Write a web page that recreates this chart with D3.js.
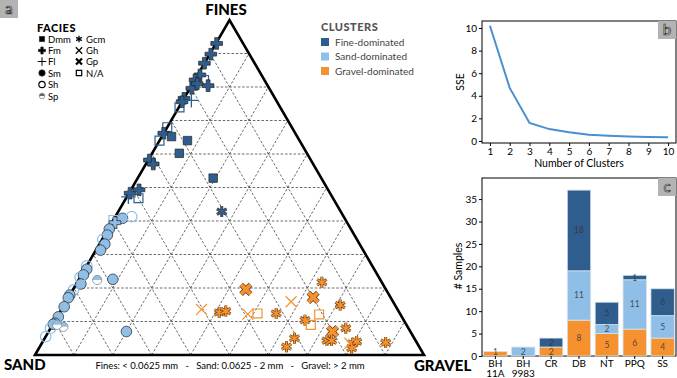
<!DOCTYPE html>
<html>
<head>
<meta charset="utf-8">
<script src="https://cdn.jsdelivr.net/npm/d3@7"></script>
<style>
  body { margin: 0; background: #fff; }
  svg { font-family: Lato, "Open Sans", sans-serif; }
</style>
</head>
<body>
<svg id="chart" width="677" height="378"></svg>
<script>
// Colori dei cluster
const clusterNames = ['Fine-dominated', 'Sand-dominated', 'Gravel-dominated'];
const clusterColors = ['#2f5e8e', '#8fbfe6', '#f5922f'];

// Facies (legenda)
const faciesCol1 = ['Dmm', 'Fm', 'Fl', 'Sm', 'Sh', 'Sp'];
const faciesCol2 = ['Gcm', 'Gh', 'Gp', 'N/A'];

// Punti ternari: [facies, fines %, gravel %] (sand = resto)
const finePoints = [
  ['Fm', 93, 0.2], ['Fm', 89.8, 0.3], ['Fm', 87.1, 0], ['Fm', 83.6, 0.6], ['Fm', 82.1, 0.1],
  ['N/A', 82.1, 2.4], ['Fm', 80.4, 4.3], ['Fm', 79.6, 0.5], ['Fm', 81, 1.2], ['Fm', 76.6, 0],
  ['Fm', 75.6, 0], ['Fl', 76, 2.2], ['N/A', 73.9, 0.2], ['N/A', 68, 0], ['Fm', 66.2, 0],
  ['Dmm', 65.2, 2.5], ['Dmm', 64, 7.2], ['N/A', 64, 0], ['Dmm', 60.2, 7], ['Fm', 58.2, 0.3],
  ['Fm', 57, 1.9], ['Dmm', 52.8, 19.4], ['Gcm', 42.8, 26.6], ['Fm', 48.3, 0.3], ['Fm', 49.3, 2.1],
  ['N/A', 46.8, 3.2], ['Fl', 47.2, 0.4]
];
const sandPoints = [
  ['Sm', 40.8, 2.1], ['Sh', 41.3, 4.2], ['N/A', 40.3, 0], ['Fm', 39.5, 0.8], ['Sm', 37.6, 0.3],
  ['Sm', 35.8, 0.7], ['Sh', 34.5, 0.2], ['Sm', 33.1, 1.4], ['Sm', 31.3, 1.2], ['Sh', 26.6, 0],
  ['Sm', 25.6, 0.5], ['Sm', 23.9, 0.5], ['Sm', 21.2, 1.2], ['Sh', 23.2, 0], ['Sp', 22.4, 4.8],
  ['Sm', 22.6, 8.7], ['Sh', 19.4, 0.2], ['Sm', 17.9, 0], ['Sm', 17.1, 0], ['Sm', 14.4, 0.3],
  ['Sm', 11.4, 0.3], ['Sm', 9.5, 0.4], ['Sm', 9.2, 0.1], ['Sh', 8, 0], ['Sh', 5.5, 0],
  ['Sp', 8.4, 3.1], ['Sp', 9, 1.2], ['Sm', 7, 20]
];
const gravelPoints = [
  ['Gcm', 21.7, 62.9], ['Gp', 19.6, 44.4], ['Gp', 17.2, 62.9], ['Gh', 15.9, 57.9], ['Gh', 13.6, 36],
  ['Gcm', 12.7, 41], ['Gcm', 13.1, 42.5], ['Gh', 12.2, 48.6], ['N/A', 12.4, 51], ['Gcm', 12.4, 55.8],
  ['Gcm', 14.9, 71], ['N/A', 12.1, 67], ['Gcm', 10.4, 64.2], ['N/A', 9, 66.4], ['Gcm', 8, 75.9],
  ['Gp', 7, 73], ['Gcm', 5, 64.2], ['Gcm', 4.3, 72.9], ['Gcm', 4.3, 74.1], ['Gcm', 2.5, 63.4],
  ['Gcm', 3.5, 79.9], ['Gcm', 4, 80.7], ['Gcm', 2, 80.4], ['Gh', 3.5, 79.2], ['Gcm', 3.7, 88.3]
];

// Curva SSE
const sseK = [1, 2, 3, 4, 5, 6, 7, 8, 9, 10];
const sseValues = [10.2, 4.7, 1.6, 1.05, 0.78, 0.55, 0.47, 0.4, 0.35, 0.33];
const sseTicks = [0, 2, 4, 6, 8, 10];

// Barre per sito
const sites = ['BH 11A', 'BH 9983', 'CR', 'DB', 'NT', 'PPQ', 'SS'];
const gravelCounts = [1, 0, 2, 8, 5, 6, 4];
const sandCounts = [0, 2, 0, 11, 2, 11, 5];
const fineCounts = [0, 0, 2, 18, 5, 1, 6];
const barTicks = [0, 5, 10, 15, 20, 25, 30, 35];

const svg = d3.select('#chart');

// ---------- Ternario ----------
const tri = { left: 35, right: 424, top: 20, bottom: 355 };
const tx = d3.scaleLinear().domain([0, 100]).range([tri.left, tri.right]);
const ty = d3.scaleLinear().domain([0, 100]).range([tri.bottom, tri.top]);
const proj = (f, g) => [tx(g + f / 2), ty(f)];

const gridG = svg.append('g');
const gridLines = [];
for (let i = 10; i < 100; i += 10) {
  gridLines.push([proj(i, 0), proj(i, 100 - i)]);
  gridLines.push([proj(0, i), proj(100 - i, i)]);
  gridLines.push([proj(0, 100 - i), proj(100 - i, 0)]);
}
gridG.selectAll('line').data(gridLines).enter().append('line')
  .attr('x1', (d) => d[0][0]).attr('y1', (d) => d[0][1])
  .attr('x2', (d) => d[1][0]).attr('y2', (d) => d[1][1])
  .attr('stroke', '#444').attr('stroke-width', 0.8).attr('stroke-dasharray', '2.5,1.8');

svg.append('path')
  .attr('d', d3.line()([proj(0, 0), proj(100, 0), proj(0, 100)]) + 'Z')
  .attr('fill', 'none').attr('stroke', '#000').attr('stroke-width', 2.6)
  .attr('stroke-linejoin', 'miter');

// disegna un marker di facies
function drawMarker(g, facies, color, s) {
  const k = s || 1;
  const legend = color === '#000';
  const sym = (type, size) => d3.symbol().type(type).size(size * k * k)();
  switch (facies) {
    case 'Dmm':
      g.append('path').attr('d', sym(d3.symbolSquare, 72)).attr('fill', color).attr('stroke', '#222').attr('stroke-width', 0.7);
      break;
    case 'Fm':
      g.append('path').attr('d', sym(d3.symbolCross, 75)).attr('fill', color).attr('stroke', '#222').attr('stroke-width', 0.7);
      break;
    case 'Fl':
      g.append('path').attr('d', sym(d3.symbolPlus, 70)).attr('fill', 'none').attr('stroke', color).attr('stroke-width', 1.3 * Math.sqrt(k));
      break;
    case 'Sm':
      g.append('circle').attr('r', 5.3 * k).attr('fill', color).attr('stroke', '#333').attr('stroke-width', 0.8);
      break;
    case 'Sh':
      g.append('circle').attr('r', 5.3 * k).attr('fill', 'none').attr('stroke', color).attr('stroke-width', 1.2);
      break;
    case 'Sp': {
      const r = 4.6 * k;
      g.append('circle').attr('r', r).attr('fill', '#fff');
      g.append('path').attr('d', `M${-r},0A${r},${r} 0 0 1 ${r},0Z`).attr('fill', legend ? '#666' : color);
      g.append('circle').attr('r', r).attr('fill', 'none').attr('stroke', '#888').attr('stroke-width', 0.8);
      break;
    }
    case 'Gcm':
      if (legend) {
        g.append('path').attr('d', sym(d3.symbolAsterisk, 85)).attr('fill', 'none').attr('stroke', color).attr('stroke-width', 1.3);
      } else {
        g.append('path').attr('d', sym(d3.symbolAsterisk, 85)).attr('fill', 'none').attr('stroke', '#5a3a1a').attr('stroke-width', 3);
        g.append('path').attr('d', sym(d3.symbolAsterisk, 85)).attr('fill', 'none').attr('stroke', color).attr('stroke-width', 1.8);
      }
      break;
    case 'Gh':
      g.append('path').attr('d', sym(d3.symbolTimes, 80)).attr('fill', 'none').attr('stroke', color).attr('stroke-width', 1.2);
      break;
    case 'Gp':
      if (legend) {
        g.append('path').attr('d', sym(d3.symbolTimes, 70)).attr('fill', 'none').attr('stroke', color).attr('stroke-width', 2.2);
      } else {
        g.append('path').attr('d', sym(d3.symbolTimes, 60)).attr('fill', 'none').attr('stroke', '#5a3a1a').attr('stroke-width', 5.2);
        g.append('path').attr('d', sym(d3.symbolTimes, 60)).attr('fill', 'none').attr('stroke', color).attr('stroke-width', 3.8);
      }
      break;
    default: // N/A
      g.append('path').attr('d', sym(d3.symbolSquare, 80)).attr('fill', 'none').attr('stroke', color).attr('stroke-width', 1.2);
  }
}

const pointSets = [finePoints, sandPoints, gravelPoints];
pointSets.forEach((pts, ci) => {
  pts.forEach((p) => {
    const [x, y] = proj(p[1], p[2]);
    const g = svg.append('g').attr('transform', `translate(${x},${y})`);
    drawMarker(g, p[0], clusterColors[ci]);
  });
});

// etichette vertici
svg.append('text').attr('x', 226).attr('y', 15).attr('text-anchor', 'middle')
  .attr('font-size', 15).attr('font-weight', 900).text('FINES');
svg.append('text').attr('x', 4).attr('y', 370)
  .attr('font-size', 15).attr('font-weight', 900).text('SAND');
svg.append('text').attr('x', 414).attr('y', 371)
  .attr('font-size', 15).attr('font-weight', 900).text('GRAVEL');
svg.append('text').attr('x', 230).attr('y', 369).attr('text-anchor', 'middle')
  .attr('font-size', 9.5).attr('xml:space', 'preserve')
  .text('Fines: < 0.0625 mm   -   Sand: 0.0625 - 2 mm   -   Gravel: > 2 mm');

// box lettere pannelli
const panelLabel = (x, y, t) => {
  svg.append('rect').attr('x', x).attr('y', y).attr('width', 18).attr('height', 18).attr('fill', '#b3b3b3');
  svg.append('text').attr('x', x + 9).attr('y', y + 14).attr('text-anchor', 'middle')
    .attr('font-size', 15).attr('fill', '#fff').attr('stroke', '#222').attr('stroke-width', 0.7).text(t);
};
panelLabel(0, 0, 'a');

// Legenda facies
svg.append('text').attr('x', 37).attr('y', 32).attr('font-size', 11).attr('font-weight', 900)
  .attr('letter-spacing', 0.5).text('FACIES');
const legY = [39, 50.5, 61.5, 73, 84.5, 96];
faciesCol1.forEach((f, i) => {
  const g = svg.append('g').attr('transform', `translate(42,${legY[i]})`);
  drawMarker(g, f, '#000', 0.6);
  svg.append('text').attr('x', 48).attr('y', legY[i] + 3.5).attr('font-size', 9.5).text(f);
});
faciesCol2.forEach((f, i) => {
  const g = svg.append('g').attr('transform', `translate(79,${legY[i]})`);
  drawMarker(g, f, '#000', 0.6);
  svg.append('text').attr('x', 86).attr('y', legY[i] + 3.5).attr('font-size', 9.5).text(f);
});

// Legenda cluster
svg.append('text').attr('x', 321).attr('y', 31).attr('font-size', 11).attr('font-weight', 900)
  .attr('fill', '#555').attr('letter-spacing', 0.5).text('CLUSTERS');
clusterNames.forEach((c, i) => {
  const y = 42 + i * 14.5;
  svg.append('rect').attr('x', 321).attr('y', y - 4).attr('width', 8).attr('height', 8).attr('fill', clusterColors[i]);
  svg.append('text').attr('x', 335).attr('y', y + 3.5).attr('font-size', 10).attr('fill', '#444').text(c);
});

// ---------- SSE ----------
const sseX = d3.scaleLinear().domain([0.6, 10.4]).range([482, 676]);
const sseY = d3.scaleLinear().domain([-0.18, 10.62]).range([143, 21]);
const gSse = svg.append('g');
gSse.append('rect').attr('x', 482).attr('y', 21).attr('width', 194).attr('height', 122)
  .attr('fill', 'none').attr('stroke', '#000').attr('stroke-width', 1);
gSse.append('g').attr('transform', 'translate(0,143)')
  .call(d3.axisBottom(sseX).tickValues(sseK).tickSize(3).tickPadding(2).tickSizeOuter(0).tickFormat(d3.format('d')))
  .call((a) => a.select('.domain').remove())
  .call((a) => a.selectAll('text').attr('font-size', 10).attr('font-family', 'Lato, sans-serif').attr('fill', '#000'));
gSse.append('g').attr('transform', 'translate(482,0)')
  .call(d3.axisLeft(sseY).tickValues(sseTicks).tickSize(3).tickPadding(2).tickSizeOuter(0))
  .call((a) => a.select('.domain').remove())
  .call((a) => a.selectAll('text').attr('font-size', 10).attr('font-family', 'Lato, sans-serif').attr('fill', '#000'));
gSse.append('path').datum(sseK.map((k, i) => [k, sseValues[i]]))
  .attr('d', d3.line().x((d) => sseX(d[0])).y((d) => sseY(d[1])))
  .attr('fill', 'none').attr('stroke', '#4a8fd0').attr('stroke-width', 2);
svg.append('text').attr('transform', 'translate(464,82) rotate(-90)').attr('text-anchor', 'middle')
  .attr('font-size', 10.5).text('SSE');
svg.append('text').attr('x', 579).attr('y', 167).attr('text-anchor', 'middle')
  .attr('font-size', 10.5).text('Number of Clusters');
panelLabel(658, 21, 'b');

// ---------- Barre ----------
const bx = d3.scaleBand().domain(sites).range([482, 676]).paddingInner(0.16).paddingOuter(0.06);
const by = d3.scaleLinear().domain([0, 39.7]).range([356, 178]);
const gBar = svg.append('g');
gBar.append('rect').attr('x', 482).attr('y', 178).attr('width', 194).attr('height', 178)
  .attr('fill', 'none').attr('stroke', '#000').attr('stroke-width', 1);

const stackData = sites.map((s, i) => ({ site: s, gravel: gravelCounts[i], sand: sandCounts[i], fine: fineCounts[i] }));
const series = d3.stack().keys(['gravel', 'sand', 'fine'])(stackData);
const segColors = [clusterColors[2], clusterColors[1], clusterColors[0]];
series.forEach((ser, si) => {
  gBar.selectAll(null).data(ser.filter((d) => d[1] - d[0] > 0)).enter().append('rect')
    .attr('x', (d) => bx(d.data.site)).attr('width', bx.bandwidth())
    .attr('y', (d) => by(d[1])).attr('height', (d) => by(d[0]) - by(d[1]))
    .attr('fill', segColors[si]).attr('stroke', '#d8e4ee').attr('stroke-width', 0.8);
  gBar.selectAll(null).data(ser.filter((d) => d[1] - d[0] > 0)).enter().append('text')
    .attr('x', (d) => bx(d.data.site) + bx.bandwidth() / 2)
    .attr('y', (d) => Math.min((by(d[0]) + by(d[1])) / 2 + 3, 354.5))
    .attr('text-anchor', 'middle').attr('font-size', 8.5).attr('fill', '#333').attr('fill-opacity', 0.85)
    .text((d) => d[1] - d[0]);
});
gBar.append('g').attr('transform', 'translate(482,0)')
  .call(d3.axisLeft(by).tickValues(barTicks).tickSize(3).tickPadding(2).tickSizeOuter(0))
  .call((a) => a.select('.domain').remove())
  .call((a) => a.selectAll('text').attr('font-size', 10).attr('font-family', 'Lato, sans-serif').attr('fill', '#000'));
gBar.append('g').attr('transform', 'translate(0,356)')
  .call(d3.axisBottom(bx).tickSize(3).tickSizeOuter(0).tickFormat(''))
  .call((a) => a.select('.domain').remove());
sites.forEach((s) => {
  const parts = s.split(' ');
  const t = gBar.append('text').attr('x', bx(s) + bx.bandwidth() / 2).attr('y', 366.5)
    .attr('text-anchor', 'middle').attr('font-size', 10);
  parts.forEach((p, i) => t.append('tspan').attr('x', bx(s) + bx.bandwidth() / 2).attr('dy', i ? 10.8 : 0).text(p));
});
svg.append('text').attr('transform', 'translate(462,266) rotate(-90)').attr('text-anchor', 'middle')
  .attr('font-size', 10.5).text('# Samples');
panelLabel(658, 178, 'c');
</script>
</body>
</html>
